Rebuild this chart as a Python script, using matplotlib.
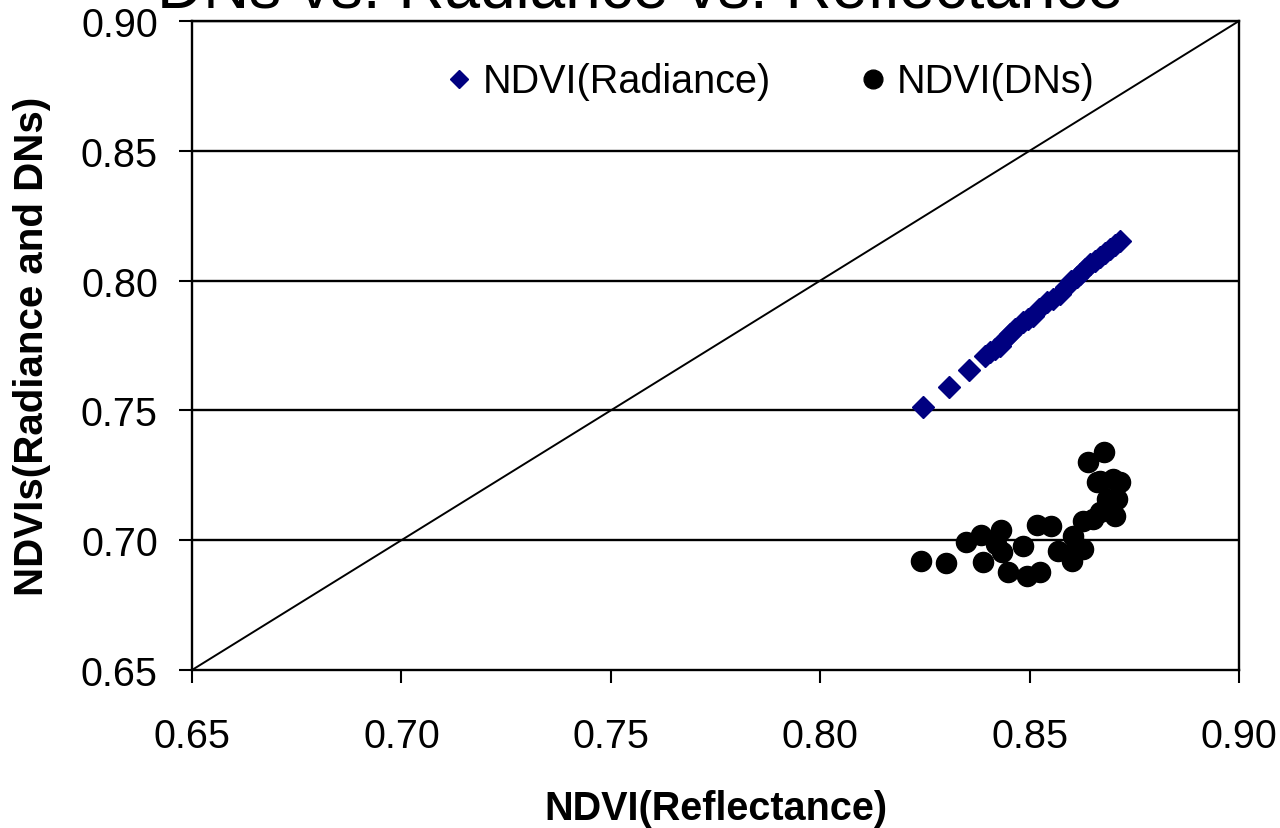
import matplotlib
matplotlib.use("Agg")
import matplotlib.pyplot as plt

plt.rcParams['font.family'] = ['Liberation Sans', 'DejaVu Sans']

# NDVI from reflectance (x) vs NDVI from radiance (y)
refl_rad = [0.8246, 0.8308, 0.8355, 0.8394, 0.8405, 0.8418, 0.8429, 0.8440,
            0.8453, 0.8466, 0.8485, 0.8497, 0.8509, 0.8522, 0.8541, 0.8556,
            0.8573, 0.8588, 0.8600, 0.8612, 0.8620, 0.8632, 0.8644, 0.8656,
            0.8668, 0.8680, 0.8692, 0.8704, 0.8716]
ndvi_rad = [0.7512, 0.7589, 0.7657, 0.7711, 0.7724, 0.7737, 0.7749, 0.7772,
            0.7794, 0.7815, 0.7839, 0.7852, 0.7865, 0.7890, 0.7916, 0.7930,
            0.7948, 0.7975, 0.8000, 0.8012, 0.8025, 0.8045, 0.8064, 0.8077,
            0.8090, 0.8106, 0.8122, 0.8138, 0.8154]

# NDVI from reflectance (x) vs NDVI from raw DNs (y)
refl_dn = [0.8240, 0.8300, 0.8348, 0.8383, 0.8389, 0.8431, 0.8420, 0.8433,
           0.8449, 0.8485, 0.8493, 0.8525, 0.8517, 0.8550, 0.8569, 0.8596,
           0.8601, 0.8603, 0.8628, 0.8627, 0.8652, 0.8668, 0.8704, 0.8684,
           0.8708, 0.8668, 0.8700, 0.8716, 0.8639, 0.8678, 0.8692, 0.8660]
ndvi_dn = [0.6921, 0.6912, 0.6992, 0.7020, 0.6915, 0.7040, 0.6985, 0.6953,
           0.6876, 0.6979, 0.6863, 0.6879, 0.7060, 0.7056, 0.6960, 0.6947,
           0.6921, 0.7015, 0.6966, 0.7075, 0.7082, 0.7107, 0.7094, 0.7159,
           0.7159, 0.7229, 0.7236, 0.7223, 0.7300, 0.7341, 0.7120, 0.7223]

ticks = [0.65, 0.70, 0.75, 0.80, 0.85, 0.90]
tick_labels = ["0.65", "0.70", "0.75", "0.80", "0.85", "0.90"]

fig = plt.figure(figsize=(12.8, 8.29), dpi=100)
ax = fig.add_axes([192 / 1280, 1 - 671 / 829, (1239 - 192) / 1280, (671 - 22) / 829])

ax.set_xlim(0.65, 0.90)
ax.set_ylim(0.65, 0.90)

# horizontal gridlines
for t in ticks[1:]:
    ax.axhline(t, color='black', lw=1.7, zorder=1)

# 1:1 reference line
ax.plot([0.65, 0.90], [0.65, 0.90], color='black', lw=1.4, zorder=2)

ax.plot(refl_rad, ndvi_rad, linestyle='none', marker='D', ms=11.5,
        color='#000080', mec='#000080', label='NDVI(Radiance)', zorder=3)
ax.plot(refl_dn, ndvi_dn, linestyle='none', marker='o', ms=14.5,
        color='black', mec='black', label='NDVI(DNs)', zorder=3)

ax.set_xticks(ticks)
ax.set_xticklabels(tick_labels)
ax.set_yticks(ticks)
ax.set_yticklabels(tick_labels)
ax.tick_params(axis='both', direction='out', length=9.5, width=1.5,
               labelsize=28.5, color='black')
ax.tick_params(axis='x', pad=24)
ax.tick_params(axis='y', pad=15)

for sp in ax.spines.values():
    sp.set_linewidth(1.7)
    sp.set_color('black')

ax.set_xlabel('NDVI(Reflectance)', fontsize=28.5, fontweight='bold')
ax.set_ylabel('NDVIs(Radiance and DNs)', fontsize=29, fontweight='bold')
ax.xaxis.set_label_coords(0.5, -0.183)
ax.yaxis.set_label_coords(-0.135, 0.5)

leg = ax.legend(loc='center', bbox_to_anchor=(0.551, 0.907), ncol=2,
                frameon=False, fontsize=28.5,
                handlelength=0.8, handletextpad=0.2, columnspacing=2.2,
                borderaxespad=0)
leg.legend_handles[0].set_markersize(8.8)
leg.legend_handles[1].set_markersize(13.5)

fig.text(0.5, 1 - 8 / 829, 'DNs vs. Radiance vs. Reflectance',
         ha='center', va='baseline', fontsize=46)

fig.savefig('out.png', dpi=100)
